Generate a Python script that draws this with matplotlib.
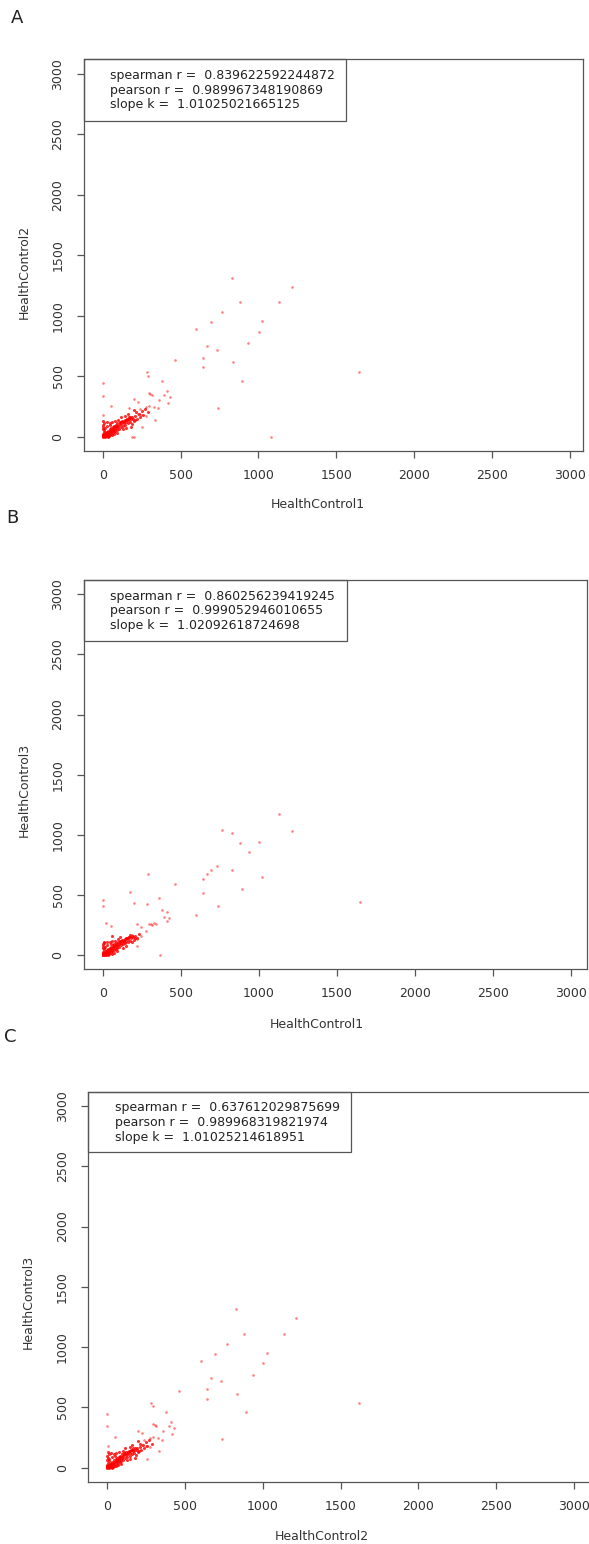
import matplotlib
matplotlib.use("Agg")
import matplotlib.pyplot as plt
from matplotlib.patches import Rectangle

plt.rcParams['font.family'] = ['DejaVu Sans']

# ---------------- data ----------------
ticks = [0, 500, 1000, 1500, 2000, 2500, 3000]

# Panel A: HealthControl1 (x) vs HealthControl2 (y)
a_x_out = [828, 1217, 879, 1134, 768, 693, 1025, 601, 1005, 935, 670, 734, 644, 835, 464, 644,
           892, 1647, 740, 1078, 282, 293, 383, 0, 0, 413, 396, 295, 315, 306, 432, 417, 359,
           296, 329, 278, 353, 336, 201, 224, 237, 224, 248, 55, 5, 278, 252, 186, 201, 171]
a_y_out = [1309, 1240, 1110, 1111, 1028, 945, 953, 887, 868, 772, 747, 716, 653, 615, 634, 573,
           463, 532, 237, 0, 537, 504, 460, 441, 339, 380, 347, 364, 344, 355, 331, 276, 301,
           256, 248, 248, 234, 138, 309, 286, 229, 187, 179, 251, 179, 174, 77, 0, 0, 234]
a_x_cl = [2, 5, 8, 12, 15, 18, 22, 25, 28, 32, 35, 38, 42, 45, 48, 52, 55, 58, 62, 65, 68, 72,
          75, 78, 82, 85, 88, 92, 95, 98, 102, 6, 10, 14, 3, 4, 20, 40, 60, 30, 50, 70, 10, 5,
          25, 105, 110, 115, 120, 125, 130, 135, 140, 145, 150, 155, 160, 165, 170, 175, 180,
          185, 190, 200, 210, 220, 230, 240, 250, 260, 130, 150, 100, 80, 60, 45, 35, 90, 0, 0,
          1, 12, 0, 3, 7, 9, 16, 20, 24, 30, 34, 44, 56, 64, 74, 84, 94, 108, 118, 128, 138,
          148, 158, 168, 178, 195, 205, 215, 270, 290, 180, 160, 200, 145, 115]
a_y_cl = [3, 12, 4, 20, 8, 30, 14, 40, 22, 6, 50, 30, 18, 60, 38, 26, 70, 45, 33, 80, 55, 40,
          90, 62, 48, 100, 72, 55, 110, 82, 64, 40, 55, 70, 25, 80, 2, 5, 12, 90, 95, 20, 110,
          130, 120, 95, 120, 80, 105, 130, 90, 115, 140, 100, 125, 150, 110, 135, 160, 120, 145,
          105, 165, 130, 175, 150, 190, 160, 210, 180, 60, 75, 140, 130, 120, 115, 0, 30, 60,
          100, 15, 0, 0, 6, 9, 16, 18, 24, 12, 35, 28, 46, 52, 66, 76, 86, 90, 110, 118, 120,
          128, 140, 144, 150, 162, 150, 140, 200, 230, 200, 80, 190, 220, 170, 160]

# Panel B: HealthControl1 (x) vs HealthControl3 (y)
b_x_out = [1132, 1215, 767, 829, 878, 1004, 935, 733, 692, 667, 643, 830, 1023, 891, 643, 739,
           600, 463, 292, 175, 199, 282, 359, 0, 0, 382, 412, 393, 427, 413, 222, 21, 53, 295,
           310, 318, 330, 340, 244, 280, 246, 218, 367, 222, 185, 1647]
b_y_out = [1176, 1029, 1040, 1012, 935, 938, 860, 740, 707, 671, 635, 704, 649, 552, 513, 410,
           333, 593, 671, 524, 433, 424, 477, 455, 410, 374, 355, 319, 311, 283, 258, 269, 244,
           261, 258, 250, 262, 255, 236, 202, 158, 75, 0, 136, 166, 440]
b_x_cl = [2, 5, 8, 12, 15, 18, 22, 25, 28, 32, 35, 38, 42, 45, 48, 52, 55, 58, 62, 65, 68, 72,
          75, 78, 82, 85, 88, 92, 95, 98, 102, 6, 10, 14, 3, 4, 20, 40, 60, 30, 50, 70, 10, 5,
          25, 105, 110, 115, 120, 125, 130, 135, 140, 145, 150, 155, 160, 165, 170, 175, 180,
          185, 190, 200, 210, 220, 230, 130, 150, 100, 80, 60, 45, 35, 90, 0, 0, 1, 12, 0, 3,
          7, 9, 16, 20, 24, 30, 34, 44, 56, 64, 74, 84, 94, 108, 118, 128, 138, 148, 158, 168,
          178, 195, 205, 60, 110]
b_y_cl = [3, 12, 4, 20, 8, 30, 14, 40, 22, 6, 50, 30, 18, 60, 38, 26, 70, 45, 33, 80, 55, 40,
          90, 62, 48, 100, 72, 55, 105, 82, 64, 40, 55, 70, 25, 75, 2, 5, 12, 85, 90, 20, 100,
          110, 105, 95, 115, 80, 100, 125, 90, 110, 135, 100, 120, 140, 110, 130, 150, 115, 140,
          105, 155, 125, 160, 145, 175, 60, 75, 130, 120, 115, 108, 0, 30, 60, 95, 15, 0, 0, 6,
          9, 16, 18, 24, 12, 35, 28, 46, 52, 66, 76, 86, 90, 110, 118, 120, 128, 140, 144, 150,
          162, 150, 140, 155, 150]

# Panel C: HealthControl2 (x) vs HealthControl3 (y)
c_x_out = [828, 1213, 879, 1134, 768, 693, 1025, 601, 1005, 935, 670, 734, 644, 835, 464, 644,
           892, 1620, 738, 282, 293, 380, 3, 3, 413, 396, 295, 315, 306, 432, 417, 359, 296, 329,
           278, 353, 336, 200, 224, 237, 224, 248, 53, 5, 278, 254]
c_y_out = [1313, 1244, 1110, 1111, 1028, 945, 953, 887, 868, 772, 747, 716, 653, 615, 634, 573,
           463, 536, 238, 539, 512, 462, 445, 346, 380, 347, 364, 344, 355, 331, 276, 301, 256,
           248, 248, 234, 138, 304, 286, 229, 187, 179, 252, 182, 174, 72]
c_x_cl = a_x_cl
c_y_cl = a_y_cl

panels = [
    dict(xo=a_x_out, yo=a_y_out, xc=a_x_cl, yc=a_y_cl,
         stats=["spearman r =  0.839622592244872", "pearson r =  0.989967348190869",
                "slope k =  1.01025021665125"],
         xlabel="HealthControl1", ylabel="HealthControl2", letter="A",
         box=(84, 59.2, 583.3, 451.2), xlim=(-120, 3085), ylim=(-120, 3120),
         xlab=(318, 505), ylab=(24.4, 271.7), let=(17, 18), leg=(346.4, 120.7), tx=110),
    dict(xo=b_x_out, yo=b_y_out, xc=b_x_cl, yc=b_y_cl,
         stats=["spearman r =  0.860256239419245", "pearson r =  0.999052946010655",
                "slope k =  1.02092618724698"],
         xlabel="HealthControl1", ylabel="HealthControl3", letter="B",
         box=(84, 579.9, 587, 969.4), xlim=(-120, 3104), ylim=(-120, 3120),
         xlab=(316.5, 1025), ylab=(24.4, 790), let=(12, 518), leg=(346.7, 641), tx=110),
    dict(xo=c_x_out, yo=c_y_out, xc=c_x_cl, yc=c_y_cl,
         stats=["spearman r =  0.637612029875699", "pearson r =  0.989968319821974",
                "slope k =  1.01025214618951"],
         xlabel="HealthControl2", ylabel="HealthControl3", letter="C",
         box=(88.3, 1091.5, 592.8, 1482.2), xlim=(-120, 3120), ylim=(-120, 3120),
         xlab=(322, 1536.7), ylab=(28.7, 1302), let=(10, 1037), leg=(350.7, 1152), tx=115),
]

W, H = 589, 1544
fig = plt.figure(figsize=(W / 100, H / 100), dpi=100)
fig.patch.set_facecolor("white")

def fx(px):
    return px / W

def fy(py):
    return 1 - py / H

line_col = "#555555"
text_col = "#333333"

for p in panels:
    l, t, r, b = p["box"]
    ax = fig.add_axes([fx(l), fy(b), (r - l) / W, (b - t) / H])
    ax.scatter(p["xo"], p["yo"], s=3.5, c="#ff2a2a", alpha=0.6, linewidths=0, zorder=3)
    ax.scatter(p["xc"], p["yc"], s=5, c="#ff0000", alpha=0.8, linewidths=0, zorder=3)
    ax.set_xlim(*p["xlim"])
    ax.set_ylim(*p["ylim"])
    ax.set_xticks(ticks)
    ax.set_yticks(ticks)
    ax.set_xticklabels([str(v) for v in ticks])
    ax.set_yticklabels([str(v) for v in ticks])
    for sp in ax.spines.values():
        sp.set_color(line_col)
        sp.set_linewidth(0.9)
    ax.tick_params(direction="out", length=5, width=0.9, color=line_col,
                   labelsize=9, labelcolor=text_col)
    ax.tick_params(axis="x", pad=7.5)
    ax.tick_params(axis="y", pad=9)
    for lab in ax.get_yticklabels():
        lab.set_rotation(90)
        lab.set_va("center")
    # legend box
    lr, lb = p["leg"]
    fig.add_artist(Rectangle((fx(l), fy(lb)), (lr - l) / W, (lb - t) / H,
                             transform=fig.transFigure, fill=False,
                             edgecolor=line_col, linewidth=0.9))
    for i, s in enumerate(p["stats"]):
        fig.text(fx(p["tx"]), fy(t + 16.5 + 14.5 * i), s, fontsize=9, color="#222222",
                 ha="left", va="center")
    fig.text(fx(p["xlab"][0]), fy(p["xlab"][1]), p["xlabel"], fontsize=9,
             color=text_col, ha="center", va="center")
    fig.text(fx(p["ylab"][0]), fy(p["ylab"][1]), p["ylabel"], fontsize=9,
             color=text_col, ha="center", va="center", rotation=90)
    fig.text(fx(p["let"][0]), fy(p["let"][1]), p["letter"], fontsize=13,
             color="#222222", ha="center", va="center")

fig.savefig("out.png", dpi=100, facecolor="white")
